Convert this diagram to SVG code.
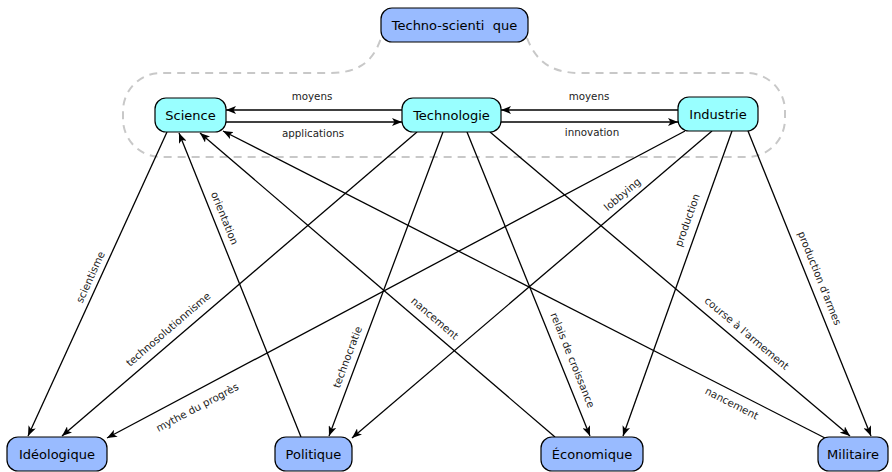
<svg xmlns="http://www.w3.org/2000/svg" width="892" height="472" viewBox="0 0 892 472">
  <defs>
    <marker id="ah" viewBox="0 0 10 8" refX="10" refY="4" markerWidth="10" markerHeight="8" orient="auto" markerUnits="userSpaceOnUse">
      <path d="M0,0 L10,4 L0,8 L2.5,4 z" fill="#000"/>
    </marker>
    <style>
      .box { stroke: #000; stroke-width: 1.2; }
      .top { fill: #99ffff; }
      .bot { fill: #99bbff; }
      .nt { font-family: "DejaVu Sans", sans-serif; font-size: 13px; fill: #000; text-anchor: middle; dominant-baseline: central; white-space: pre; }
      .edge { stroke: #000; stroke-width: 1.3; fill: none; marker-end: url(#ah); }
      .lbl { font-family: "DejaVu Sans", sans-serif; font-size: 10.3px; fill: #222; text-anchor: middle; dominant-baseline: central; }
      .group { fill: none; stroke: #c8c8c8; stroke-width: 2; stroke-dasharray: 8 6; }
    </style>
  </defs>
  <rect width="892" height="472" fill="#fff"/>

  <!-- dashed outline grouping the three top-row nodes under the parent node -->
  <path class="group" d="M527 38 C534 56 546 73 580 73 L747 73 A38 38 0 0 1 785 111 L785 119 A38 38 0 0 1 747 157 L161 157 A38 38 0 0 1 123 119 L123 111 A38 38 0 0 1 161 73 L330 73 C364 73 375 56 381 38"/>

  <g id="connectors">
    <line class="edge" x1="402" y1="110" x2="226" y2="110"/>
    <line class="edge" x1="226" y1="122" x2="402" y2="122"/>
    <line class="edge" x1="678" y1="110" x2="501" y2="110"/>
    <line class="edge" x1="501" y1="122" x2="678" y2="122"/>

    <line class="edge" x1="167" y1="132" x2="28" y2="436"/>
    <line class="edge" x1="301" y1="437" x2="179" y2="133"/>
    <line class="edge" x1="555" y1="437" x2="200" y2="133"/>
    <line class="edge" x1="825" y1="438" x2="223" y2="131"/>

    <line class="edge" x1="417" y1="132" x2="62" y2="436"/>
    <line class="edge" x1="443" y1="132" x2="329" y2="436"/>
    <line class="edge" x1="467" y1="132" x2="590" y2="436"/>
    <line class="edge" x1="490" y1="132" x2="850" y2="436"/>

    <line class="edge" x1="685" y1="131" x2="107" y2="438"/>
    <line class="edge" x1="712" y1="131" x2="352" y2="438"/>
    <line class="edge" x1="732" y1="131" x2="623" y2="436"/>
    <line class="edge" x1="748" y1="131" x2="871" y2="436"/>

    <text class="lbl" x="312" y="96">moyens</text>
    <text class="lbl" x="313" y="133">applications</text>
    <text class="lbl" x="589" y="96">moyens</text>
    <text class="lbl" x="592" y="132">innovation</text>

    <text class="lbl" transform="translate(90,277) rotate(-65.5)">scientisme</text>
    <text class="lbl" transform="translate(225,218) rotate(68)">orientation</text>
    <text class="lbl" transform="translate(168,329) rotate(-40.7)">technosolutionnisme</text>
    <text class="lbl" transform="translate(197,407) rotate(-28)">mythe du progrès</text>
    <text class="lbl" transform="translate(347,357) rotate(-69.5)">technocratie</text>
    <text class="lbl" transform="translate(435,318) rotate(40.6)">nancement</text>
    <text class="lbl" transform="translate(573,360) rotate(68)">relais de croissance</text>
    <text class="lbl" transform="translate(622,194) rotate(-40.5)">lobbying</text>
    <text class="lbl" transform="translate(687,220) rotate(-70.4)">production</text>
    <text class="lbl" transform="translate(820,278) rotate(68.1)">production d'armes</text>
    <text class="lbl" transform="translate(747,333) rotate(40.1)">course à l'armement</text>
    <text class="lbl" transform="translate(732,403) rotate(27)">nancement</text>
  </g>

  <g id="techno-scientifique">
    <rect class="box bot" x="381" y="8" width="147" height="34" rx="11"/>
    <text class="nt" x="454.5" y="25">Techno-scienti  que</text>
  </g>
  <g id="science">
    <rect class="box top" x="155" y="98" width="71" height="34" rx="11"/>
    <text class="nt" x="190.5" y="115">Science</text>
  </g>
  <g id="technologie">
    <rect class="box top" x="402" y="98" width="99" height="34" rx="11"/>
    <text class="nt" x="451.5" y="115">Technologie</text>
  </g>
  <g id="industrie">
    <rect class="box top" x="678" y="97" width="80" height="34" rx="11"/>
    <text class="nt" x="718" y="114">Industrie</text>
  </g>
  <g id="ideologique">
    <rect class="box bot" x="7" y="437" width="100" height="34" rx="11"/>
    <text class="nt" x="57" y="454">Idéologique</text>
  </g>
  <g id="politique">
    <rect class="box bot" x="275" y="437" width="77" height="34" rx="11"/>
    <text class="nt" x="313.5" y="454">Politique</text>
  </g>
  <g id="economique">
    <rect class="box bot" x="541" y="437" width="102" height="34" rx="11"/>
    <text class="nt" x="592" y="454">Économique</text>
  </g>
  <g id="militaire">
    <rect class="box bot" x="818" y="437" width="70" height="34" rx="11"/>
    <text class="nt" x="853" y="454">Militaire</text>
  </g>
</svg>
